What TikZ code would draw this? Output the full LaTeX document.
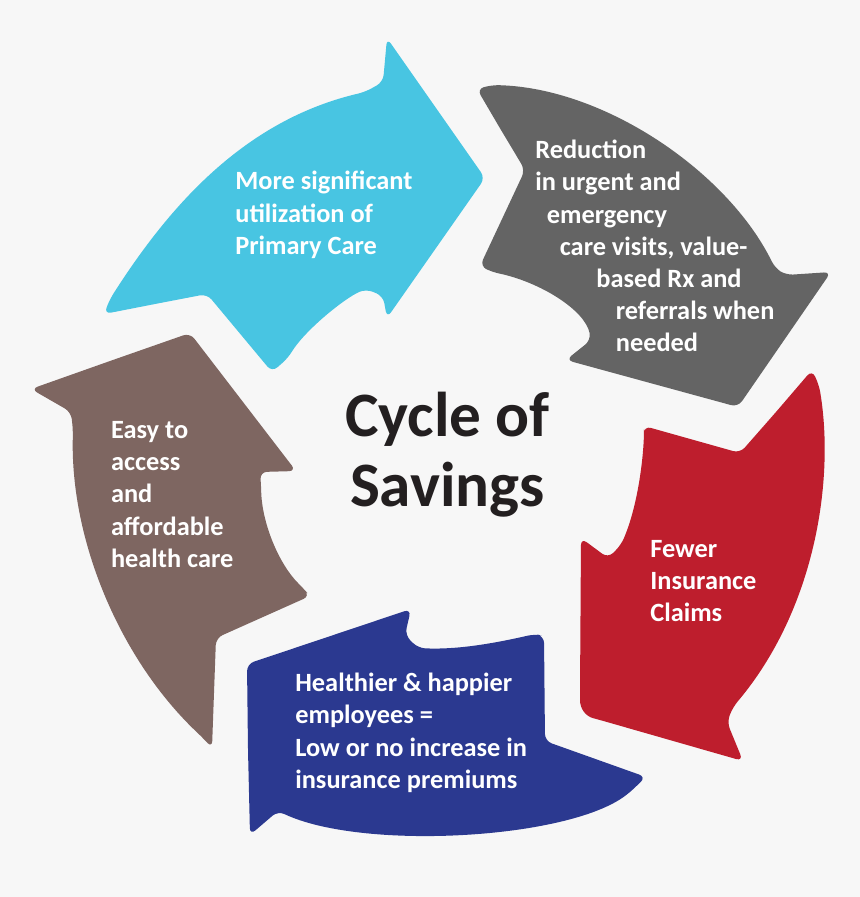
\documentclass[tikz,border=0pt]{standalone}
\usepackage{fontspec}
\setmainfont{Carlito}
\definecolor{cyclecyan}{HTML}{48C5E2}
\definecolor{cyclegrey}{HTML}{646464}
\definecolor{cyclered}{HTML}{BE1E2D}
\definecolor{cyclenavy}{HTML}{2B3990}
\definecolor{cyclebrown}{HTML}{7E6661}
\definecolor{paper}{HTML}{F7F7F7}
\definecolor{ink}{HTML}{231F20}

\begin{document}
\begin{tikzpicture}[
		x=0.2mm,
		y=-0.2mm,
		petal/.style={rounded corners=4pt},
		stagetext/.style={anchor=base west, align=left, inner sep=0pt, text=white, font=\fontsize{15}{18.3}\selectfont\bfseries},
		centretext/.style={anchor=base, align=center, inner sep=0pt, text=ink, font=\fontsize{36}{39.8}\selectfont\bfseries}
	]
		\useasboundingbox (0,0) rectangle (860,897);
		\fill[paper] (0,0) rectangle (860,897);

		\fill[cyclecyan, petal] (155,304) -- (104,314) -- (110,299)
			.. controls (170,205) and (245,120) .. (365,92)
			-- (383,82) -- (387,38) -- (485,178) -- (387,318) -- (383,296) -- (366,289)
			.. controls (345,298) and (305,330) .. (288,358)
			-- (272,372) -- (207,294) -- cycle;

		\fill[cyclegrey, petal] (501,130) -- (477,89) -- (492,85)
			.. controls (605,88) and (728,172) .. (775,268)
			-- (786,275) -- (831,272) -- (738,407) -- (566,360) -- (591,340)
			.. controls (585,310) and (540,282) .. (492,272)
			-- (480,266) -- (525,170) -- cycle;

		\fill[cyclered, petal] (776,412) -- (812,370) -- (819,385)
			.. controls (835,480) and (815,610) .. (733,707)
			-- (727,722) -- (743,761) -- (600,720)
			.. controls (585,716) and (580,708) .. (580,693)
			-- (581,538) -- (608,558) -- (621,545)
			.. controls (636,510) and (642,470) .. (644,436)
			-- (644,426) -- (740,453) -- cycle;

		\fill[cyclenavy, petal] (248,750) -- (247,664) -- (411,609) -- (405,635) -- (418,648)
			.. controls (460,650) and (500,642) .. (535,634)
			-- (544,636) -- (545,741) -- (646,777) -- (628,794)
			.. controls (560,840) and (360,850) .. (278,811)
			-- (250,835) -- cycle;

		\fill[cyclebrown, petal] (110,361) -- (190,333) -- (296,471) -- (260,472) -- (261,484)
			.. controls (262,525) and (280,565) .. (303,588)
			-- (310,596) -- (216,638) -- (212,748) -- (203,738)
			.. controls (120,660) and (70,540) .. (73,430)
			-- (71,412) -- (31,389) -- cycle;

		\node[stagetext] (primary) at (235,254.3) {More significant\\utilization of\\Primary Care};
		\node[stagetext] (reduction) at (535,351.7) {Reduction\\in urgent and\\\hspace*{2.3mm}emergency\\\hspace*{4.9mm}care visits, value-\\\hspace*{12.2mm}based Rx and\\\hspace*{16.1mm}referrals when\\\hspace*{16.1mm}needed};
		\node[stagetext] (claims) at (650,621.7) {Fewer\\Insurance\\Claims};
		\node[stagetext] (healthier) at (295,788.3) {Healthier \& happier\\employees =\\Low or no increase in\\insurance premiums};
		\node[stagetext] (access) at (110.7,567.3) {Easy to\\access\\and\\affordable\\health care};

		\node[centretext] (title) at (447.5,506.7) {Cycle of\\Savings};
	\end{tikzpicture}
\end{document}
